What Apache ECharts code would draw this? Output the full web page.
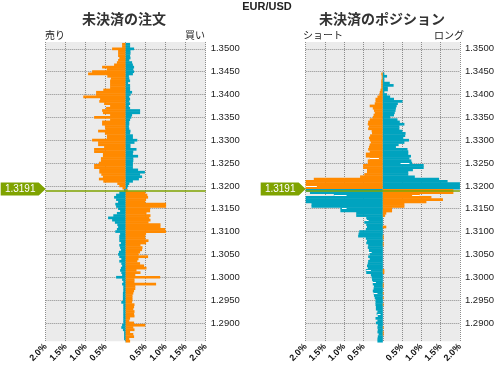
<!DOCTYPE html>
<html><head><meta charset="utf-8">
<script src="https://cdn.jsdelivr.net/npm/echarts@6/dist/echarts.min.js"></script>
<style>html,body{margin:0;padding:0;background:#fff}#c{width:497px;height:365px}</style>
</head><body><div id="c"></div>
<script>
// price buckets (top -> bottom)
const PRICE_TOP = 1.3515, PRICE_STEP = 0.0005, N_BUCKETS = 132;
const currentPrice = 1.3191;
const currentBucket = '1.3190';
const currentLabel = '1.3191';
const yTickLabels = ['1.3500','1.3450','1.3400','1.3350','1.3300','1.3250','1.3200','1.3150','1.3100','1.3050','1.3000','1.2950','1.2900'];
const xTickLabels = ['2.0%','1.5%','1.0%','0.5%','','0.5%','1.0%','1.5%','2.0%'];

// 未決済の注文 : left side (売り) and right side (買い), in %
const orderLeft = [0,
0.09,0.09,0.34,0.19,0.19,0.19,0.16,0.19,0.22,0.29,0.59,0.47,0.84,0.94,0.46,0.37,0.39,0.39,0.39,0.39,
0.56,0.74,0.74,1.06,0.64,0.66,0.54,0.39,0.49,0.59,0.57,0.39,0.79,0.39,0.59,0.59,0.52,0.51,0.69,0.52,
0.47,0.47,0.84,0.69,0.69,0.54,0.79,0.79,0.57,0.57,0.62,0.62,0.67,0.79,0.79,0.66,0.66,0.61,0.57,0.67,
0.56,0.21,0.16,0.08,
0.04,
0.16,0.24,0.29,0.24,0.19,0.26,0.24,0.19,0.14,0.22,0.31,0.44,0.34,0.27,0.21,0.19,0.22,0.26,0.14,0.16,
0.16,0.16,0.12,0.16,0.14,0.12,0.17,0.19,0.16,0.11,0.16,0.11,0.09,0.12,0.14,0.11,0.09,0.24,0.09,0.06,
0.09,0.06,0.06,0.06,0.07,0.07,0.07,0.07,0.11,0.06,0.06,0.06,0.06,0.06,0.06,0.06,0.06,0.06,0.09,0.11,
0.07,0.04,0.04,0.04,0.04,0.01];
const orderRight = [0,
0.11,0.11,0.21,0.12,0.12,0.11,0.12,0.09,0.16,0.18,0.21,0.19,0.21,0.18,0.08,0.09,0.11,0.06,0.11,0.11,
0.11,0.16,0.12,0.09,0.11,0.09,0.11,0.08,0.11,0.36,0.36,0.16,0.14,0.11,0.09,0.09,0.08,0.09,0.12,0.11,
0.18,0.18,0.29,0.22,0.12,0.12,0.27,0.19,0.18,0.31,0.19,0.19,0.18,0.18,0.18,0.31,0.48,0.36,0.41,0.33,
0.18,0.09,0.06,0.04,
0.05,
0.49,0.54,0.56,0.51,0.49,1.01,1.01,0.61,0.61,0.52,0.62,0.59,0.62,0.57,0.87,0.87,0.99,1.01,0.51,0.49,
0.49,0.57,0.51,0.37,0.42,0.41,0.36,0.32,0.56,0.32,0.29,0.36,0.46,0.52,0.27,0.37,0.24,0.86,0.22,0.22,
0.76,0.24,0.24,0.21,0.19,0.17,0.17,0.17,0.16,0.22,0.21,0.19,0.22,0.21,0.22,0.11,0.09,0.21,0.49,0.19,
0.22,0.11,0.19,0.21,0.09,0.11];

// 未決済のポジション : left side (ショート) and right side (ロング), in %
const posLeft = [0,0,0,0,0,0,0,0,0,0,0,0,0,0,
0.04,0.03,0.03,0.04,0.04,0.04,0.04,0.06,0.08,0.09,0.14,0.19,0.19,0.21,0.34,0.26,0.23,0.21,0.24,0.26,
0.34,0.38,0.39,0.36,0.38,0.29,0.28,0.33,0.36,0.34,0.31,0.34,0.36,0.38,0.34,0.44,0.44,0.34,0.39,0.39,
0.51,0.51,0.41,0.41,0.48,0.59,1.79,2.2,2.2,2.2,2.2,
2.2,1.89,1.27,2.2,2.2,2.2,1.85,1.85,1.1,1.1,0.69,0.69,
0.43,0.41,0.48,0.43,0.41,0.44,0.61,0.63,0.64,0.44,0.41,0.43,0.38,0.39,0.36,0.36,0.34,0.38,0.34,
0.38,0.39,0.41,0.39,0.44,0.43,0.31,0.29,0.28,0.26,0.26,0.23,0.24,0.26,0.24,0.23,0.21,0.19,0.19,0.19,
0.18,0.18,0.14,0.16,0.13,0.19,0.14,0.18,0.13,0.14,0.13,0.14,0.11,0.13,0.14,
0.14];
const posRight = [0,0,0,0,0,0,0,0,0,0,0,0,0,0,
0.04,0.11,0.04,0.04,0.18,0.28,0.13,0.13,0.04,0.11,0.19,0.29,0.51,0.39,0.36,0.34,0.33,0.31,0.29,0.19,
0.38,0.44,0.56,0.43,0.43,0.51,0.59,0.58,0.53,0.68,0.56,0.41,0.34,0.64,0.66,0.66,0.73,0.69,0.74,0.76,
1.06,1.06,0.78,0.66,0.66,0.83,1.46,1.68,2.2,2.2,2.2,
1.83,1.83,0.96,1.26,1.56,1.13,0.56,0.56,0.24,0.24,0.09,0.06,
0,0,0,0,0.09,0,0,0,0.02,0.02,0,0.02,0.02,0,0,0,0,0,0,
0,0,0,0,0.04,0.04,0,0,0,0,0.02,0.02,0,0,0.02,0,0.02,0,0,0.02,
0,0,0,0,0,0,0,0,0,0.02,0,0.02,0.02,0,0,
0];

// thin white marks inside the position bars (previous snapshot)
const prevPosPrice = ['1.3260','1.3250','1.3200','1.3180','1.3180','1.3150','1.3125','1.3055','1.3015','1.2990','1.2965','1.2920'];
const prevPosFrom  = [-0.10, 0.46, -1.71, -0.94, 0.76, -0.94, -0.37, -0.29, -0.31, -0.18, -0.14, -0.06];
const prevPosTo    = [-0.34, 0.69, -2.00, -1.26, 0.96, -1.06, -0.43, -0.39, -0.43, -0.27, -0.24, -0.14];

const ORANGE = '#ff8a00', TEAL = '#00a3bf', GREEN = '#7fa300';
const prices = [];
for (let i = 0; i < N_BUCKETS; i++) prices.push((PRICE_TOP - i * PRICE_STEP).toFixed(4));
const isAbove = i => parseFloat(prices[i]) > currentPrice;

const chart = echarts.init(document.getElementById('c'), null, {renderer: 'canvas'});
const gridPos = [{left: 45.7}, {left: 305.7}];
const grid = [], xAxis = [], yAxis = [], series = [];
const sets = [[orderLeft, orderRight], [posLeft, posRight]];
const yTickFn = (idx, val) => yTickLabels.indexOf(val) >= 0;
gridPos.forEach((gp, g) => {
  grid.push({left: gp.left, top: 42, width: 160, height: 301, show: true, backgroundColor: '#ebebeb', borderWidth: 0});
  xAxis.push({type: 'value', gridIndex: g, min: -2, max: 2, interval: 0.5,
    axisLine: {show: false}, axisTick: {show: false},
    splitLine: {show: true, lineStyle: {type: 'dotted', color: '#8c8c8c', width: 1}},
    axisLabel: {rotate: 45, margin: 4, fontSize: 9, fontWeight: 'bold', color: '#111', fontFamily: 'Liberation Sans',
      formatter: v => xTickLabels[Math.round((v + 2) / 0.5)]}});
  yAxis.push({type: 'category', gridIndex: g, data: prices, inverse: true, boundaryGap: false, position: 'right',
    axisLine: {show: false}, axisTick: {show: false},
    axisLabel: {interval: yTickFn, fontSize: 9.5, color: '#222', margin: 5, fontFamily: 'Liberation Sans'},
    splitLine: {show: true, interval: yTickFn, lineStyle: {type: 'dotted', color: '#8c8c8c', width: 1}}});
  const [L, R] = sets[g];
  const lineData = [{yAxis: currentBucket, lineStyle: {color: GREEN, width: 1.5, type: 'solid'}}];
  if (g === 1) {
    prevPosPrice.forEach((p, k) => lineData.push([
      {coord: [prevPosFrom[k], p], lineStyle: {color: '#ffffff', width: 1, type: 'solid'}},
      {coord: [prevPosTo[k], p]}]));
  }
  series.push({type: 'bar', xAxisIndex: g, yAxisIndex: g, data: L.map(v => -v), barWidth: 2.7, barGap: '-100%', clip: true,
    itemStyle: {color: p => isAbove(p.dataIndex) ? ORANGE : TEAL}, silent: true});
  series.push({type: 'bar', xAxisIndex: g, yAxisIndex: g, data: R, barWidth: 2.7, barGap: '-100%', clip: true,
    itemStyle: {color: p => isAbove(p.dataIndex) ? TEAL : ORANGE}, silent: true, z: 3,
    markLine: {silent: true, symbol: ['none', 'none'], label: {show: false}, animation: false,
      lineStyle: {color: GREEN, width: 1.5, type: 'solid'}, data: lineData},
    markPoint: {silent: true, animation: false,
      symbol: 'path://M0,0L38,0L45,6.5L38,13L0,13Z', symbolSize: [45, 13], symbolOffset: [-22.5, -1.5], symbolKeepAspect: false,
      itemStyle: {color: GREEN},
      label: {show: true, position: 'inside', offset: [-3, 0], formatter: currentLabel, color: '#fff', fontSize: 10, fontFamily: 'Liberation Sans'},
      data: [{coord: [-2, currentBucket]}]}});
});

const txt = (text, x, y, align, font, fill) => ({type: 'text', x: x, y: y,
  style: {text: text, textAlign: align, align: align, textVerticalAlign: 'middle', verticalAlign: 'middle', font: font, fill: fill}});
const CJK = '"Noto Sans CJK JP"';
chart.setOption({
  animation: false,
  grid: grid, xAxis: xAxis, yAxis: yAxis, series: series,
  graphic: [
    txt('EUR/USD', 267, 7, 'center', 'bold 11px "Liberation Sans"', '#222'),
    txt('未決済の注文', 124, 18.5, 'center', 'bold 14px ' + CJK, '#333'),
    txt('未決済のポジション', 382, 18.5, 'center', 'bold 14px ' + CJK, '#333'),
    txt('売り', 45, 35, 'left', '10px ' + CJK, '#222'),
    txt('買い', 205, 35, 'right', '10px ' + CJK, '#222'),
    txt('ショート', 303, 35, 'left', '10px ' + CJK, '#222'),
    txt('ロング', 464, 35, 'right', '10px ' + CJK, '#222')
  ]
});
</script></body></html>
